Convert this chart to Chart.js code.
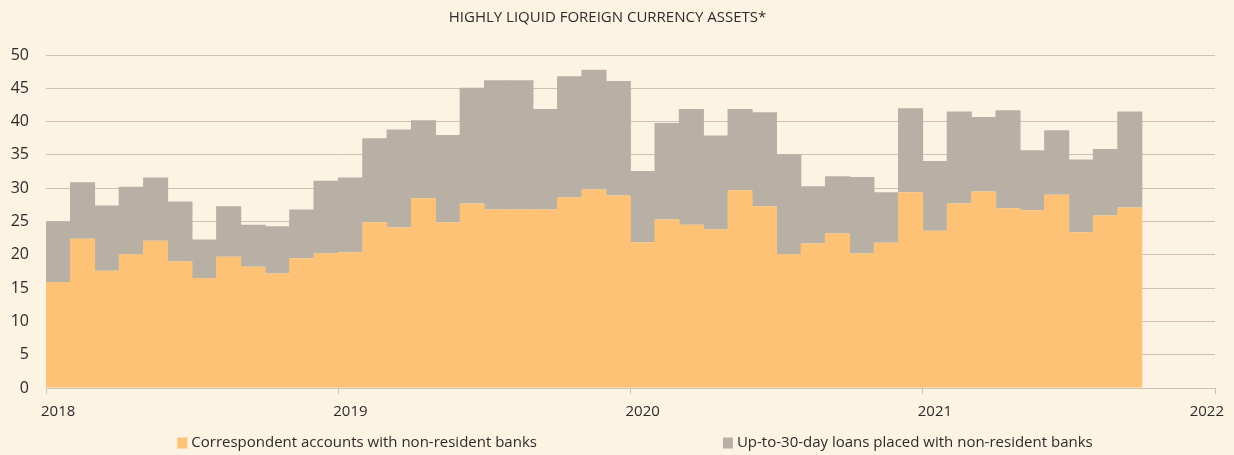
<!DOCTYPE html>
<html>
<head>
<meta charset="utf-8">
<script src="https://cdn.jsdelivr.net/npm/chart.js@4.4.1/dist/chart.umd.min.js"></script>
<style>
  html, body { margin: 0; padding: 0; background: #fdf3e3; }
  canvas { display: block; }
</style>
</head>
<body>
<canvas id="chart" width="1234" height="455"></canvas>
<script>
const months = [
  'Jan 2018','Feb 2018','Mar 2018','Apr 2018','May 2018','Jun 2018','Jul 2018','Aug 2018','Sep 2018','Oct 2018','Nov 2018','Dec 2018',
  'Jan 2019','Feb 2019','Mar 2019','Apr 2019','May 2019','Jun 2019','Jul 2019','Aug 2019','Sep 2019','Oct 2019','Nov 2019','Dec 2019',
  'Jan 2020','Feb 2020','Mar 2020','Apr 2020','May 2020','Jun 2020','Jul 2020','Aug 2020','Sep 2020','Oct 2020','Nov 2020','Dec 2020',
  'Jan 2021','Feb 2021','Mar 2021','Apr 2021','May 2021','Jun 2021','Jul 2021','Aug 2021','Sep 2021'
];
const yearLabels = ['2018', '2019', '2020', '2021', '2022'];

const correspondent = [
  15.9, 22.4, 17.6, 20.1, 22.1, 19.0, 16.5, 19.7, 18.2, 17.2, 19.5, 20.2,
  20.4, 24.9, 24.1, 28.5, 24.9, 27.7, 26.8, 26.8, 26.8, 28.6, 29.8, 28.9,
  21.9, 25.3, 24.5, 23.8, 29.7, 27.3, 20.1, 21.7, 23.2, 20.2, 21.8, 29.4,
  23.6, 27.7, 29.5, 27.0, 26.7, 29.0, 23.4, 25.9, 27.1
];
const loans = [
  9.1, 8.5, 9.8, 10.1, 9.5, 9.0, 5.8, 7.6, 6.3, 7.1, 7.3, 10.9,
  11.2, 12.6, 14.7, 11.7, 13.1, 17.4, 19.4, 19.4, 15.1, 18.2, 18.0, 17.2,
  10.7, 14.5, 17.4, 14.1, 12.2, 14.1, 15.0, 8.6, 8.6, 11.5, 7.6, 12.6,
  10.5, 13.8, 11.2, 14.7, 9.0, 9.7, 10.9, 10.0, 14.4
];

const seriesNames = ['Correspondent accounts with non-resident banks', 'Up-to-30-day loans placed with non-resident banks'];

const FONT = '"Open Sans", "DejaVu Sans", sans-serif';
const TEXT = '#2b2b2b';
const GRID = '#cbc1b4';

// each month sits in the middle of its slot on a linear month axis
const toPoints = arr => arr.map((v, i) => ({ x: i + 0.5, y: v }));

// year labels sit in the middle of January, legend is drawn by hand with a wide gap
const extrasPlugin = {
  id: 'extras',
  afterDraw(chart) {
    const ctx = chart.ctx;
    const xs = chart.scales.x;
    ctx.save();
    ctx.font = '15px ' + FONT;
    ctx.fillStyle = TEXT;
    ctx.textBaseline = 'middle';
    ctx.textAlign = 'center';
    yearLabels.forEach((lab, k) => {
      const w = ctx.measureText(lab).width;
      let px = xs.getPixelForValue(k * 12 + 0.5);
      px = Math.min(px, chart.width - 10 - w / 2);
      ctx.fillText(lab, px, chart.chartArea.bottom + 24);
    });

    ctx.textAlign = 'left';
    const items = chart.data.datasets.map(ds => ({ label: ds.label, color: ds.backgroundColor }));
    const box = 10, gapText = 4, gapItem = 186;
    const widths = items.map(it => box + gapText + ctx.measureText(it.label).width);
    const total = widths.reduce((a, b) => a + b, 0) + gapItem * (items.length - 1);
    let x = chart.width / 2 + 18 - total / 2;
    const yc = chart.height - 12;
    items.forEach((it, i) => {
      ctx.fillStyle = it.color;
      ctx.fillRect(x, yc - 5.5, box, 11);
      ctx.fillStyle = TEXT;
      ctx.fillText(it.label, x + box + gapText, yc);
      x += widths[i] + gapItem;
    });
    ctx.restore();
  }
};

new Chart(document.getElementById('chart').getContext('2d'), {
  type: 'bar',
  data: {
    labels: months,
    datasets: [
      {
        label: seriesNames[0],
        data: toPoints(correspondent),
        backgroundColor: '#fec277',
        borderWidth: 0,
        barPercentage: 1.03,
        categoryPercentage: 1
      },
      {
        label: seriesNames[1],
        data: toPoints(loans),
        backgroundColor: '#b8b0a4',
        borderWidth: 0,
        barPercentage: 1.03,
        categoryPercentage: 1
      }
    ]
  },
  options: {
    responsive: false,
    animation: false,
    layout: { padding: { left: 0, right: 19, top: 0, bottom: 31 } },
    plugins: {
      legend: { display: false },
      tooltip: { enabled: false },
      title: {
        display: true,
        text: 'HIGHLY LIQUID FOREIGN CURRENCY ASSETS*',
        color: TEXT,
        font: { family: FONT, size: 15, weight: 'normal' },
        padding: { top: 9, bottom: 28 }
      }
    },
    scales: {
      x: {
        type: 'linear',
        stacked: true,
        offset: false,
        min: 0,
        max: 48,
        ticks: { display: false, stepSize: 12 },
        grid: { offset: false, drawOnChartArea: false, drawTicks: true, tickLength: 6, color: GRID },
        border: { display: true, color: GRID },
        afterFit: s => { s.height = 36; }
      },
      y: {
        stacked: true,
        min: 0,
        max: 50,
        ticks: { stepSize: 5, color: TEXT, padding: 17, font: { family: FONT, size: 16 } },
        grid: { color: GRID, drawTicks: false },
        border: { display: false },
        afterFit: s => { s.width = 46; }
      }
    }
  },
  plugins: [extrasPlugin]
});
</script>
</body>
</html>
